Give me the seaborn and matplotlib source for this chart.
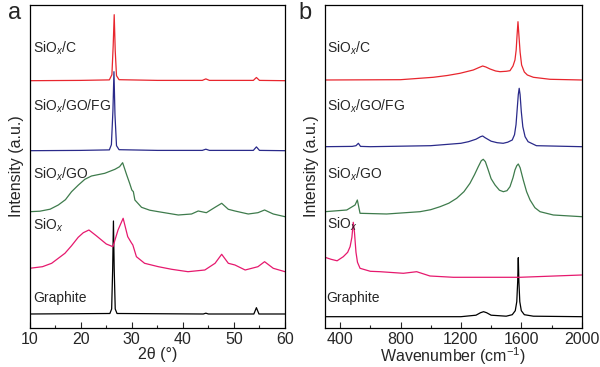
import matplotlib
matplotlib.use("Agg")
import matplotlib.pyplot as plt
import seaborn as sns
import pandas as pd

# ---- XRD (panel a): 2theta and heights above each trace's own baseline ----
xrd_c_x = [10, 20, 25.6, 26.1, 26.35, 26.55, 26.75, 27.0, 27.5, 35, 43.8, 44.5, 45.2, 53.8, 54.4, 55.0, 60]
xrd_c_y = [0, 0.3, 0.8, 6, 35, 66, 30, 5, 1, 0.3, 0.3, 1.8, 0.3, 0.3, 3.2, 0.3, 0]

xrd_fg_x = [10, 20, 25.6, 26.0, 26.3, 26.5, 26.7, 27.0, 27.5, 35, 43.8, 44.5, 45.2, 53.8, 54.4, 55.0, 60]
xrd_fg_y = [0, 0.3, 0.8, 6, 40, 79, 36, 5, 1, 0.3, 0.3, 1.5, 0.3, 0.3, 3.8, 0.3, 0]

xrd_go_x = [10, 12, 14, 15.6, 17, 18.2, 19.5, 20.8, 22.1, 24.7, 26.7, 27.6, 28.2, 29.0, 29.6, 30.0, 30.3, 30.6,
            31.9, 33.5, 35.2, 39.1, 41.7, 43.0, 44.6, 46.3, 47.6, 48.9, 50.2, 52.8, 54.7, 56.0, 57.7, 60]
xrd_go_y = [5, 5.5, 7.5, 11.7, 17, 25, 31.5, 37.4, 40.7, 43.4, 47.4, 50, 54, 41.7, 33, 26.7, 25, 16.7,
            9.4, 6.5, 5, 1.7, 2.7, 5.7, 4, 9.4, 13.4, 7.4, 5.7, 2.7, 4, 6.7, 2.7, 0]

xrd_siox_x = [10, 12.5, 14.3, 16.9, 18.2, 19.5, 20.5, 21.6, 23.1, 25.0, 26.3, 27.3, 28.3, 29.2, 29.9, 30.2, 30.9,
              32.5, 35.2, 37.8, 41.0, 44.3, 46.3, 47.6, 48.9, 50.2, 52.2, 54.7, 56.0, 57.7, 60]
xrd_siox_y = [3.4, 5, 8.4, 18.4, 26, 34.4, 39, 41.7, 35.7, 27.7, 25, 41.7, 53.4, 35, 29, 26.7, 15,
              8.4, 5, 2.4, 0, 1.7, 8.4, 17.4, 8.4, 6.7, 1.7, 5, 10, 3.4, 0]

xrd_gr_x = [10, 25.7, 26.05, 26.25, 26.4, 26.55, 26.75, 27.1, 44.0, 44.5, 45.0, 53.9, 54.4, 54.9, 60]
xrd_gr_y = [0, 0.5, 5, 45, 93, 45, 5, 0.5, 0, 0.8, 0, 0, 6.3, 0, 0]

# ---- Raman (panel b): wavenumber and heights ----
ram_c_x = [300, 800, 1017, 1110, 1194, 1282, 1320, 1344, 1365, 1393, 1430, 1459, 1500, 1525, 1545, 1558,
           1566, 1572, 1578, 1584, 1592, 1602, 1620, 1640, 1680, 1790, 2000]
ram_c_y = [0, 0.3, 2.7, 4.5, 6.7, 10, 12.5, 14, 13, 11, 9, 8.3, 8.7, 9.3, 14, 20,
           30, 45, 58.3, 45, 28, 15, 8, 5, 2.7, 0.7, 0]

ram_fg_x = [300, 480, 505, 521, 535, 600, 1000, 1200, 1250, 1300, 1330, 1344, 1360, 1400, 1440, 1480,
            1510, 1540, 1555, 1565, 1574, 1580, 1586, 1592, 1600, 1610, 1625, 1645, 1700, 2000]
ram_fg_y = [0, 0.3, 1, 3.4, 0.3, 0, 1, 3.4, 5, 7.5, 10, 10.7, 9, 5.5, 4, 3.4,
            4.5, 6.7, 12, 22, 40, 52, 58.4, 52, 35, 20, 10, 5, 1, 0]

ram_go_x = [300, 444, 499, 514, 532, 708, 929, 1000, 1062, 1120, 1172, 1220, 1260, 1290, 1315, 1335,
            1348, 1362, 1381, 1400, 1426, 1455, 1481, 1505, 1525, 1545, 1558, 1570, 1580, 1592,
            1613, 1635, 1658, 1690, 1724, 1812, 2000]
ram_go_y = [5, 6.7, 11.7, 16.7, 3.4, 2.7, 5, 7, 10, 13.5, 18.4, 25, 33.4, 42, 50, 56,
            57.4, 55, 46.7, 38, 31.7, 26.5, 25, 26, 30, 39, 46.7, 51, 52.7, 49,
            36.7, 25, 16.7, 9, 5, 1.7, 0]

ram_siox_x = [300, 340, 380, 421, 450, 466, 478, 487, 495, 505, 515, 532, 600, 664, 819, 907, 995, 1150, 1591, 2000]
ram_siox_y = [20, 18, 16.5, 20.6, 25, 30.6, 40, 55, 45, 25, 15, 9, 6, 5.6, 4, 5.6, 1.3, 0, 0, 2.3]

ram_gr_x = [300, 1200, 1300, 1330, 1350, 1370, 1400, 1500, 1540, 1560, 1570, 1576, 1580, 1584, 1590,
            1600, 1620, 1680, 2000]
ram_gr_y = [0, 0, 1.5, 4, 5, 4, 1.5, 0.5, 2, 6, 15, 35, 59, 35, 15, 6, 2, 0.5, 0]

names = ["SiO$_x$/C", "SiO$_x$/GO/FG", "SiO$_x$/GO", "SiO$_x$", "Graphite"]
colors = ["#e8262e", "#2a2a8a", "#3e7b4c", "#e6196e", "#000000"]

sns.set_theme(style="ticks")
plt.rcParams["font.family"] = ["Liberation Sans", "DejaVu Sans"]
plt.rcParams["mathtext.fontset"] = "custom"
plt.rcParams["mathtext.rm"] = "Liberation Sans"
plt.rcParams["mathtext.it"] = "Liberation Sans:italic"

fig = plt.figure(figsize=(6, 3.67), dpi=100)
ax1 = fig.add_axes([0.0495, 0.1071, 0.4255, 0.8793])
ax2 = fig.add_axes([0.5417, 0.1071, 0.4278, 0.8793])

xrd = [(xrd_c_x, xrd_c_y), (xrd_fg_x, xrd_fg_y), (xrd_go_x, xrd_go_y),
       (xrd_siox_x, xrd_siox_y), (xrd_gr_x, xrd_gr_y)]
ram = [(ram_c_x, ram_c_y), (ram_fg_x, ram_fg_y), (ram_go_x, ram_go_y),
       (ram_siox_x, ram_siox_y), (ram_gr_x, ram_gr_y)]
xrd_off = [247, 177, 111, 56, 13.7]
ram_off = [247.7, 181, 111, 50.4, 11]
label_y1 = [275, 216.7, 148.7, 98.4, 25.4]
label_y2 = [275, 216.7, 148.7, 99.4, 26]

for ax, series, offs, ly, lx in [(ax1, xrd, xrd_off, label_y1, 10.7),
                                   (ax2, ram, ram_off, label_y2, 311)]:
    for i in range(len(series))[::-1]:
        xs, ys = series[i]
        df = pd.DataFrame({"x": xs, "y": [v + offs[i] for v in ys]})
        sns.lineplot(data=df, x="x", y="y", ax=ax, color=colors[i], lw=0.9, sort=False)
        ax.text(lx, ly[i], names[i], fontsize=10, va="baseline", ha="left")
    ax.set_ylim(0, 322.7)
    ax.set_yticks([])
    ax.set_ylabel("Intensity (a.u.)", fontsize=11.5, labelpad=4)
    ax.tick_params(axis="x", direction="in", length=4, width=0.8, labelsize=11.5, pad=3)
    ax.tick_params(axis="x", which="minor", direction="in", length=2.5, width=0.8)
    for s in ax.spines.values():
        s.set_linewidth(0.9)
        s.set_color("black")

ax1.set_xlim(10, 60)
ax1.set_xticks([10, 20, 30, 40, 50, 60])
ax1.set_xticks([15, 25, 35, 45, 55], minor=True)
ax1.set_xlabel("2θ (°)", fontsize=11.5, labelpad=0)

ax2.set_xlim(300, 2000)
ax2.set_xticks([400, 800, 1200, 1600, 2000])
ax2.set_xticks([600, 1000, 1400, 1800], minor=True)
ax2.set_xlabel("Wavenumber (cm$^{-1}$)", fontsize=11.5, labelpad=-1)

fig.text(0.025, 0.965, "a", fontsize=17, ha="center", va="center")
fig.text(0.508, 0.965, "b", fontsize=17, ha="center", va="center")

fig.savefig("out.png", dpi=100)
